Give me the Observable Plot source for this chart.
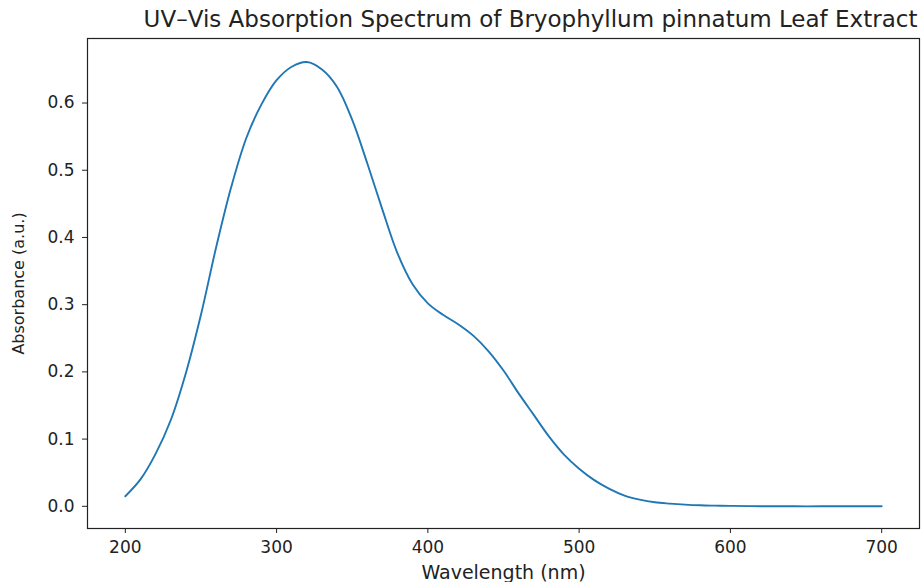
<!DOCTYPE html>
<html>
<head>
<meta charset="utf-8">
<script src="https://cdn.jsdelivr.net/npm/d3@7"></script>
<script src="https://cdn.jsdelivr.net/npm/@observablehq/plot@0.6"></script>
<style>
  html, body { margin: 0; padding: 0; background: white; }
</style>
</head>
<body>
<div id="chart"></div>
<script>
const titleText = "UV\u2013Vis Absorption Spectrum of Bryophyllum pinnatum Leaf Extract";
const xLabel = "Wavelength (nm)";
const yLabel = "Absorbance (a.u.)";

const xTicks = [200, 300, 400, 500, 600, 700];
const yTicks = [0.0, 0.1, 0.2, 0.3, 0.4, 0.5, 0.6];

const wavelength = [200, 210, 220, 230, 240, 250, 260, 270, 280, 290,
                    300, 310, 320, 330, 340, 350, 360, 370, 380, 390,
                    400, 410, 420, 430, 440, 450, 460, 470, 480, 490,
                    500, 510, 520, 530, 540, 550, 560, 570, 580, 590,
                    600, 620, 640, 660, 680, 700];
const absorbance = [0.015, 0.040, 0.078, 0.128, 0.198, 0.285, 0.385, 0.475, 0.548, 0.598,
                    0.634, 0.654, 0.661, 0.650, 0.624, 0.575, 0.510, 0.441, 0.376, 0.330,
                    0.302, 0.285, 0.271, 0.254, 0.231, 0.202, 0.168, 0.136, 0.104, 0.077,
                    0.056, 0.039, 0.026, 0.016, 0.010, 0.006, 0.004, 0.0025, 0.0015, 0.001,
                    0.0006, 0.0002, 0.0, 0.0, 0.0, 0.0];

const data = wavelength.map((w, i) => ({w, a: absorbance[i]}));

const chart = Plot.plot({
  width: 922,
  height: 582,
  marginLeft: 87,
  marginRight: 3,
  marginTop: 38,
  marginBottom: 54,
  style: {fontFamily: "DejaVu Sans", background: "white", color: "#222", fontSize: "17px"},
  x: {domain: [175, 725]},
  y: {domain: [-0.033, 0.696]},
  marks: [
    Plot.line(data, {x: "w", y: "a", stroke: "#1f77b4", strokeWidth: 1.9, curve: "catmull-rom"}),
    Plot.frame({stroke: "#222", strokeWidth: 1.2}),
    Plot.axisX(xTicks, {tickSize: 5, tickPadding: 7, fontSize: 17, label: null}),
    Plot.axisY(yTicks, {tickSize: 5, tickPadding: 8, fontSize: 17, tickFormat: d3.format(".1f"), label: null}),
    Plot.text([titleText], {frameAnchor: "top", lineAnchor: "middle", textAnchor: "middle", dy: -19, dx: 27, fontSize: 23}),
    Plot.text([xLabel], {frameAnchor: "bottom", lineAnchor: "middle", textAnchor: "middle", dy: 44, fontSize: 19}),
    Plot.text([yLabel], {frameAnchor: "left", lineAnchor: "middle", textAnchor: "middle", dx: -69, rotate: -90, fontSize: 16})
  ]
});
document.getElementById("chart").appendChild(chart);
</script>
</body>
</html>
